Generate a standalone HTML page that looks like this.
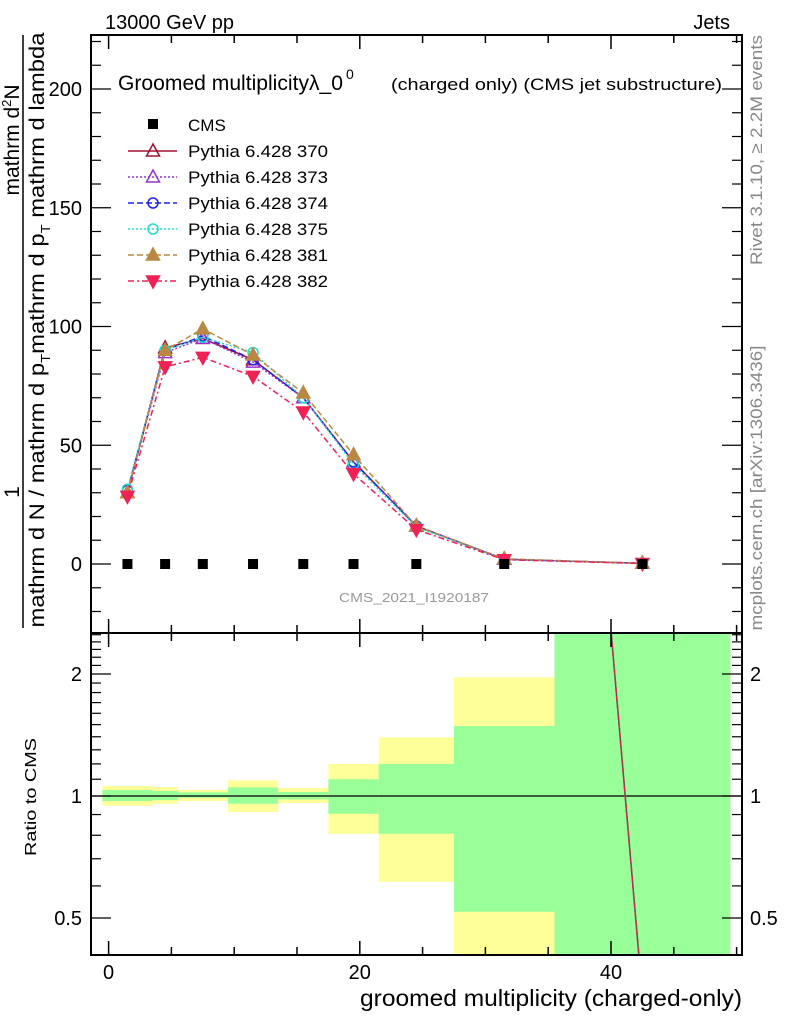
<!DOCTYPE html>
<html><head><meta charset="utf-8"><style>
body{margin:0;background:#fff;overflow:hidden;}
svg text{font-family:"Liberation Sans",sans-serif;}
</style></head><body>
<svg id="c" width="786" height="1024" xmlns="http://www.w3.org/2000/svg" style="display:block">
<defs>
<clipPath id="mainClip"><rect x="91" y="35" width="651" height="598"/></clipPath>
<clipPath id="ratioClip"><rect x="91" y="633" width="651" height="322"/></clipPath>
</defs>
<g id="bands" clip-path="url(#ratioClip)"></g>
<g id="ratioLines" clip-path="url(#ratioClip)"></g>
<g id="series" clip-path="url(#mainClip)"></g>
<g id="axes"></g>
<text x="105" y="29" font-size="20">13000 GeV pp</text>
<text x="730" y="29" font-size="20" text-anchor="end">Jets</text>
<text x="118" y="90" font-size="21" textLength="225" lengthAdjust="spacingAndGlyphs">Groomed multiplicityλ_0</text>
<text x="346" y="79" font-size="14">0</text>
<text x="391" y="90" font-size="17" textLength="331" lengthAdjust="spacingAndGlyphs">(charged only) (CMS jet substructure)</text>
<text x="414" y="602" font-size="13" fill="#999" text-anchor="middle" textLength="150" lengthAdjust="spacingAndGlyphs">CMS_2021_I1920187</text>
<g>
<text transform="translate(19,140) rotate(-90)" font-size="21" text-anchor="middle">mathrm d<tspan font-size="13" dy="-8">2</tspan><tspan dy="8">N</tspan></text>
<text transform="translate(19,492) rotate(-90)" font-size="21" text-anchor="middle">1</text>
<line x1="23" y1="35" x2="23" y2="628" stroke="#000" stroke-width="1.5"/>
<text transform="translate(44,330) rotate(-90)" font-size="21" text-anchor="middle" textLength="595" lengthAdjust="spacingAndGlyphs">mathrm d N / mathrm d p<tspan font-size="13" dy="6">T</tspan><tspan dy="-6">mathrm d p</tspan><tspan font-size="13" dy="6">T</tspan><tspan dy="-6"> mathrm d lambda</tspan></text>
</g>
<text transform="translate(762,150) rotate(-90)" font-size="17" fill="#888" text-anchor="middle" textLength="230" lengthAdjust="spacingAndGlyphs">Rivet 3.1.10, ≥ 2.2M events</text>
<text transform="translate(762,488) rotate(-90)" font-size="17" fill="#888" text-anchor="middle" textLength="285" lengthAdjust="spacingAndGlyphs">mcplots.cern.ch [arXiv:1306.3436]</text>
<text transform="translate(36,797) rotate(-90)" font-size="16" text-anchor="middle" textLength="118" lengthAdjust="spacingAndGlyphs">Ratio to CMS</text>
<text x="360" y="1006" font-size="23" textLength="382" lengthAdjust="spacingAndGlyphs">groomed multiplicity (charged-only)</text>
<g id="legend"></g>
</svg>
<script>
const binEdges=[-0.5,3.5,5.5,9.5,13.5,17.5,21.5,27.5,35.5,49.5];
const xCenters=[1.5,4.5,7.5,11.5,15.5,19.5,24.5,31.5,42.5];
const cmsValues=[0,0,0,0,0,0,0,0,0];
const p370=[30,91,95,86,70,43,16,2,0.3];
const p373=[30,89,95,85,70,43,16,2,0.3];
const p374=[31,90,96,86,70,43,16,2,0.3];
const p375=[31.5,90,95.5,89,70,42,15.5,2,0.3];
const p381=[30,90,99,88,72,46,16,2.2,0.3];
const p382=[28.5,83,87,79,64,38,14.5,1.8,0.2];
const statUp=[1.035,1.029,1.021,1.05,1.023,1.1,1.2,1.488,10];
const statDn=[0.972,0.977,0.99,0.957,0.981,0.904,0.807,0.518,0.1];
const totUp=[1.058,1.052,1.035,1.093,1.046,1.2,1.395,1.963,10];
const totDn=[0.946,0.957,0.972,0.913,0.961,0.807,0.614,0.1,0.1];
const ratioLineX=[31.5,42.5];
const ratioLineY=[3000,0.32];
const xTicks=[0,20,40];
const yTicks=[0,50,100,150,200];
const rTicks=[0.5,1,2];

const NS="http://www.w3.org/2000/svg";
const X=v=>108.6+(v)*12.56;
const Y=v=>564-v*2.375;
const R=v=>796-Math.log2(v)*122;
function mk(tag,attrs,parent){const e=document.createElementNS(NS,tag);for(const k in attrs)e.setAttribute(k,attrs[k]);parent.appendChild(e);return e;}
const axes=document.getElementById('axes');
const bands=document.getElementById('bands');
for(let i=0;i<xCenters.length;i++){
 const x0=X(binEdges[i]),x1=X(binEdges[i+1]);
 const y=mk('rect',{x:x0,y:R(totUp[i]),width:x1-x0,height:R(totDn[i])-R(totUp[i]),fill:'#ffff99'},bands);
 
 
 const g=mk('rect',{x:x0,y:R(statUp[i]),width:x1-x0,height:R(statDn[i])-R(statUp[i]),fill:'#99ff99'},bands);
 
 
}
const one=mk('line',{x1:91,x2:742,y1:R(1),y2:R(1),stroke:'#000','stroke-width':1.2},bands);


const rl=document.getElementById('ratioLines');
const rbase=mk('line',{x1:X(ratioLineX[0]),y1:R(ratioLineY[0]),x2:X(ratioLineX[1]),y2:R(ratioLineY[1]),stroke:'#555','stroke-width':1.5},rl);


const rline=mk('line',{x1:X(ratioLineX[0]),y1:R(ratioLineY[0]),x2:X(ratioLineX[1]),y2:R(ratioLineY[1]),stroke:'#dd2255','stroke-width':1.5,'stroke-dasharray':'6,3'},rl);


for(const f of [[91,35,651,598],[91,633,651,322]]){
 const r=mk('rect',{x:f[0],y:f[1],width:f[2],height:f[3],fill:'none',stroke:'#000','stroke-width':2},axes);
 
 
}
for(let v=0;v<=50;v+=5){
 const maj=v%20===0,L=maj?14:8;
 for(const [t,b] of [[35,633],[633,955]]){
  mk('line',{x1:X(v),x2:X(v),y1:t,y2:t+L,stroke:'#000','stroke-width':1.5},axes);
  mk('line',{x1:X(v),x2:X(v),y1:b,y2:b-L,stroke:'#000','stroke-width':1.5},axes);
 }
}
xTicks.forEach(v=>{const t=mk('text',{x:X(v),y:979,'font-size':20,'text-anchor':'middle'},axes);t.textContent=v;
 
 });
for(let v=-20;v<=220;v+=10){
 const L=v%50===0?20:10;
 mk('line',{x1:91,x2:91+L,y1:Y(v),y2:Y(v),stroke:'#000','stroke-width':1.2},axes);
 mk('line',{x1:742,x2:742-L,y1:Y(v),y2:Y(v),stroke:'#000','stroke-width':1.2},axes);
}
yTicks.forEach(v=>{const t=mk('text',{x:82,y:Y(v)+7,'font-size':20,'text-anchor':'end'},axes);t.textContent=v;
 
 });
const rMinor=[0.5,0.6,0.7,0.8,0.9,1,1.1,1.2,1.3,1.4,1.5,1.6,1.7,1.8,1.9,2,2.1,2.2,2.3,2.4,2.5];
rMinor.forEach(v=>{const L=rTicks.includes(v)?20:10;
 mk('line',{x1:91,x2:91+L,y1:R(v),y2:R(v),stroke:'#000','stroke-width':1.2},axes);
 mk('line',{x1:742,x2:742-L,y1:R(v),y2:R(v),stroke:'#000','stroke-width':1.2},axes);});
rTicks.forEach(v=>{
 const t=mk('text',{x:82,y:R(v)+7,'font-size':20,'text-anchor':'end'},axes);t.textContent=v;
 
 
 const t2=mk('text',{x:750,y:R(v)+7,'font-size':20},axes);t2.textContent=v;
 
 });
const series=[
 {n:'Pythia 6.428 370',d:p370,c:'#a01030',dash:'',m:'tri',fill:false},
 {n:'Pythia 6.428 373',d:p373,c:'#9933cc',dash:'2,2',m:'tri',fill:false},
 {n:'Pythia 6.428 374',d:p374,c:'#2222ee',dash:'6,3',m:'circ',fill:false},
 {n:'Pythia 6.428 375',d:p375,c:'#22ddcc',dash:'2,2',m:'circ',fill:false},
 {n:'Pythia 6.428 381',d:p381,c:'#bb8844',dash:'6,3',m:'tri',fill:true},
 {n:'Pythia 6.428 382',d:p382,c:'#ee2255',dash:'6,3,2,3',m:'tridown',fill:true}];
function marker(type,x,y,c,fill,parent){
 if(type==='circ')return mk('circle',{cx:x,cy:y,r:5,fill:'none',stroke:c,'stroke-width':1.5},parent);
 const s=type==='tridown'?-1:1;
 return mk('polygon',{points:`${x},${y-7*s} ${x-6.5},${y+5*s} ${x+6.5},${y+5*s}`,fill:fill?c:'none',stroke:c,'stroke-width':1.5},parent);
}
const sg=document.getElementById('series');
const leg=document.getElementById('legend');
series.forEach((s,si)=>{
 const pl=mk('polyline',{points:xCenters.map((x,i)=>X(x)+','+Y(s.d[i])).join(' '),fill:'none',stroke:s.c,'stroke-width':1.5,'stroke-dasharray':s.dash},sg);
 
 
 xCenters.forEach((x,i)=>{const m=marker(s.m,X(x),Y(s.d[i]),s.c,s.fill,sg);
  
  });
 const ly=151+si*26;
 const ll=mk('line',{x1:128,x2:177,y1:ly,y2:ly,stroke:s.c,'stroke-width':1.5,'stroke-dasharray':s.dash},leg);
 
 
 const lm=marker(s.m,153,ly,s.c,s.fill,leg);
 
 
 const lt=mk('text',{x:188,y:ly+6,'font-size':17,textLength:140,lengthAdjust:'spacingAndGlyphs'},leg);lt.textContent=s.n;
 
 
});
xCenters.forEach((x,i)=>{const r=mk('rect',{x:X(x)-5,y:Y(cmsValues[i])-5,width:10,height:10,fill:'#000'},sg);
 
 });
const cm=mk('rect',{x:148,y:119,width:10,height:10,fill:'#000'},leg);


const ct=mk('text',{x:188,y:131,'font-size':17},leg);ct.textContent='CMS';


</script>
</body></html>
